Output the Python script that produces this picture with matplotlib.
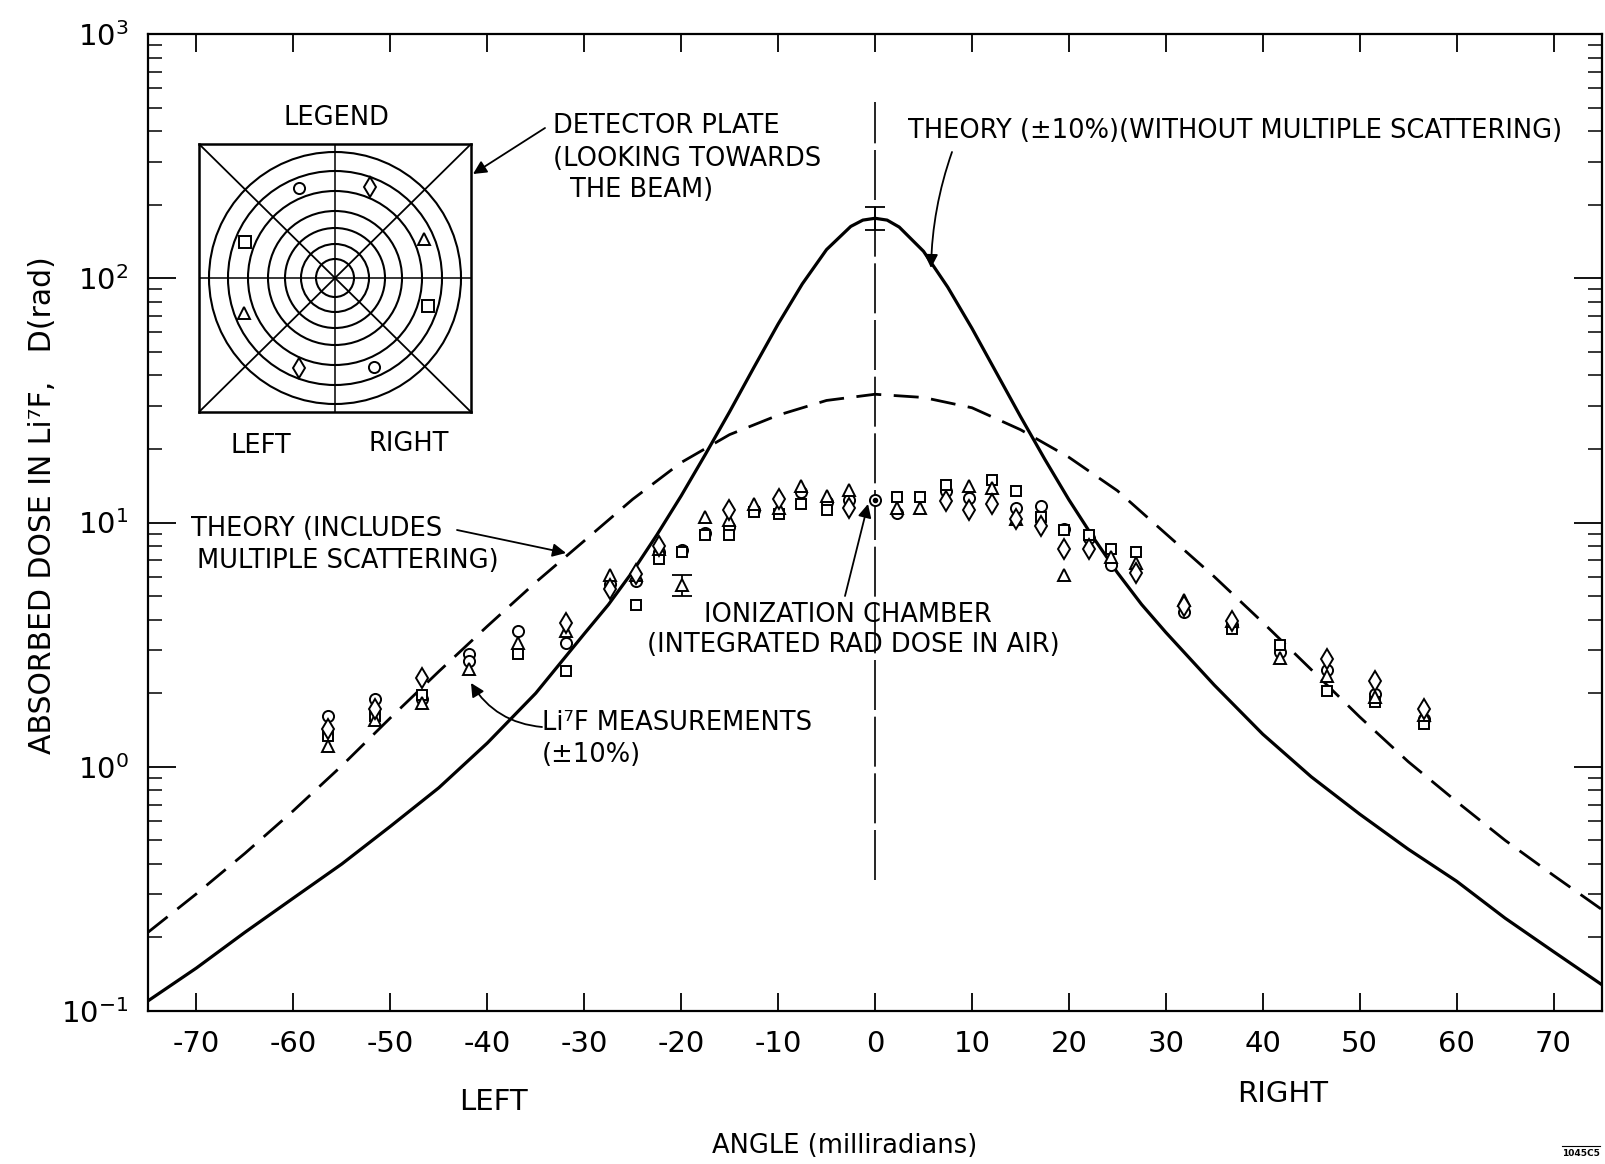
import matplotlib
matplotlib.use("Agg")
import matplotlib.pyplot as plt
import numpy as np
from matplotlib.patches import Circle
from matplotlib.lines import Line2D
from matplotlib.ticker import LogLocator, NullFormatter, FixedLocator

plt.rcParams["font.family"] = ["DejaVu Sans"]
plt.rcParams["axes.unicode_minus"] = False
plt.rcParams["mathtext.default"] = "regular"

W, H = 1605, 1164

# --- theory without multiple scattering (solid) ---
theory_angle = [-75, -70, -65, -60, -55, -50, -45, -40, -35, -30, -27.5, -25, -22.5,
                -20, -17.5, -15, -12.5, -10, -7.5, -5, -2.5, -1.25, 0, 1.25, 2.5, 5,
                7.5, 10, 12.5, 15, 17.5, 20, 22.5, 25, 27.5, 30, 35, 40, 45, 50, 55,
                60, 65, 70, 75]
theory_dose = [0.11, 0.15, 0.21, 0.29, 0.40, 0.57, 0.82, 1.25, 2.0, 3.5, 4.61, 6.3, 8.9,
               12.85, 19.0, 28.4, 43.1, 64.9, 94.8, 131, 163, 173, 176, 173, 162, 129,
               92, 62.4, 41.2, 27.2, 18.2, 12.4, 8.7, 6.24, 4.62, 3.55, 2.16, 1.36, 0.91,
               0.64, 0.46, 0.34, 0.24, 0.175, 0.128]

# --- theory including multiple scattering (dashed) ---
ms_angle = [-75, -70, -65, -60, -55, -50, -45, -40, -35, -30, -25, -20, -15, -10, -5, 0,
            5, 10, 15, 20, 25, 30, 35, 40, 45, 50, 55, 60, 65, 70, 75]
ms_dose = [0.21, 0.302, 0.442, 0.661, 1.01, 1.585, 2.455, 3.76, 5.69, 8.41, 12.45, 17.6,
           22.9, 27.5, 31.6, 33.5, 32.5, 29.5, 24, 18.5, 13.5, 9.0, 6.0, 3.9, 2.5, 1.6,
           1.05, 0.72, 0.50, 0.359, 0.26]

# --- Li7F measurements, one list per detector position ---
circle_angle = [-56.4, -51.6, -46.7, -41.9, -41.9, -36.8, -31.9, -27.3, -24.7, -22.3, -19.9,
                -17.5, -15.1, -12.5, -7.6, -5.0, -2.7, 2.3, 7.3, 9.7, 14.5, 17.1, 19.5,
                22.1, 24.3, 31.9, 36.8, 41.8, 46.6, 51.6, 56.6]
circle_dose = [1.61, 1.90, 1.90, 2.89, 2.70, 3.58, 3.22, 5.6, 5.78, 7.55, 7.7,
               9.1, 9.6, 11.2, 13.3, 12.1, 12.4, 10.9, 13.5, 12.6, 11.5, 11.7, 9.4,
               8.6, 6.7, 4.3, 3.8, 2.95, 2.5, 1.99, 1.57]

square_angle = [-56.4, -51.6, -46.7, -36.8, -31.9, -24.7, -22.3, -19.9, -17.5, -15.1, -12.5,
                -9.9, -7.6, -5.0, 2.3, 4.6, 7.3, 12.1, 14.5, 17.1, 19.5, 22.1, 24.3,
                26.9, 36.8, 41.8, 46.6, 51.6, 56.6]
square_dose = [1.33, 1.62, 1.96, 2.89, 2.47, 4.6, 7.1, 7.6, 8.9, 8.85, 11.0,
               10.8, 11.9, 11.2, 12.7, 12.7, 14.2, 14.9, 13.4, 10.5, 9.3, 8.85, 7.8,
               7.55, 3.66, 3.16, 2.05, 1.84, 1.49]

triangle_angle = [-56.4, -51.6, -46.7, -41.9, -36.8, -31.9, -27.3, -24.7, -22.3, -19.9, -17.5,
                  -15.1, -12.5, -9.9, -7.6, -5.0, -2.7, 2.3, 4.6, 9.7, 12.1, 14.5, 19.5,
                  24.3, 26.9, 31.9, 36.8, 41.8, 46.6, 51.6, 56.6]
triangle_dose = [1.22, 1.56, 1.82, 2.51, 3.22, 3.60, 6.1, 6.1, 7.8, 5.55, 10.5,
                 10.2, 11.9, 11.5, 14.1, 12.8, 13.6, 11.5, 11.5, 14.1, 13.8, 10.3, 6.1,
                 7.2, 6.8, 4.8, 3.95, 2.78, 2.35, 1.93, 1.63]

diamond_angle = [-56.4, -51.6, -46.7, -31.9, -27.3, -24.7, -22.3, -15.1, -9.9, -2.7, 7.3,
                 9.7, 12.1, 14.5, 17.1, 19.5, 22.1, 26.9, 31.9, 36.8, 46.6, 51.6, 56.6]
diamond_dose = [1.43, 1.72, 2.31, 3.89, 5.35, 6.17, 8.05, 11.3, 12.5, 11.5, 12.3,
                11.3, 11.9, 10.3, 9.7, 7.8, 7.8, 6.2, 4.55, 3.95, 2.75, 2.25, 1.73]

# ionization chamber reading and the two +-10% bars
ion_angle, ion_dose = 0.0, 12.4
bar_angle = [0.0, -19.9]
bar_dose = [176, 5.55]
bar_low = [158, 5.0]
bar_high = [195, 6.1]

# detector-plate legend: ring radii and marker spots (angle deg, marker)
plate_radii = [126, 107, 87, 67, 50, 34, 19]
plate_spot_r = 97
plate_spot_deg = [112, 69, 158, 24, 201, 343, 248, 294]
plate_spot_mk = ["o", "d", "s", "^", "^", "s", "d", "o"]

x_ticks = list(range(-70, 71, 10))
center_line = (0.345, 525)


def fpx(x, y):
    return x / W, 1 - y / H


fig = plt.figure(figsize=(W / 100, H / 100), dpi=100)
ax = fig.add_axes([148 / W, 1 - 1011 / H, 1454 / W, 977 / H])
ax.set_yscale("log")
ax.set_xlim(-75, 75)
ax.set_ylim(0.1, 1000)

ax.plot(theory_angle, theory_dose, color="k", lw=2.3, solid_joinstyle="round")
ax.plot(ms_angle, ms_dose, color="k", lw=2.0, dashes=(9, 4.5))
ax.plot([0, 0], center_line, color="k", lw=1.2, dashes=(30, 4))

mk = dict(ls="none", mfc="white", mec="k", mew=1.4, zorder=4)
ax.plot(circle_angle, circle_dose, marker="o", ms=8, **mk)
ax.plot(square_angle, square_dose, marker="s", ms=7.5, **mk)
ax.plot(triangle_angle, triangle_dose, marker="^", ms=8.5, **mk)
ax.plot(diamond_angle, diamond_dose, marker="d", ms=10, **mk)
ax.plot([ion_angle], [ion_dose], marker="o", ms=8, **mk)
ax.plot([ion_angle], [ion_dose], marker="o", ms=3, ls="none", color="k", zorder=5)

yerr = [np.array(bar_dose) - np.array(bar_low), np.array(bar_high) - np.array(bar_dose)]
ax.errorbar(bar_angle, bar_dose, yerr=yerr, fmt="none", ecolor="k", elinewidth=1.3,
            capsize=7, capthick=1.3, zorder=3)

for s in ax.spines.values():
    s.set_linewidth(1.6)
ax.xaxis.set_major_locator(FixedLocator(x_ticks))
ax.set_xticklabels([str(t) for t in x_ticks])
ax.yaxis.set_major_locator(LogLocator(base=10, numticks=10))
ax.yaxis.set_minor_locator(LogLocator(base=10, subs=np.arange(2, 10), numticks=10))
ax.yaxis.set_minor_formatter(NullFormatter())
ax.tick_params(axis="x", which="major", direction="in", length=13, width=1.3,
               top=True, labelsize=21, pad=14)
ax.tick_params(axis="y", which="major", direction="in", length=20, width=1.3,
               right=True, labelsize=21, pad=14)
ax.tick_params(axis="y", which="minor", direction="in", length=10, width=1.1, right=True)

# --- detector plate legend ---
lax = fig.add_axes([199 / W, 1 - 412 / H, 272 / W, 268 / H])
lax.set_xlim(-136, 136)
lax.set_ylim(-134, 134)
lax.set_xticks([])
lax.set_yticks([])
for s in lax.spines.values():
    s.set_linewidth(1.8)
for r in plate_radii:
    lax.add_patch(Circle((0, 0), r, fill=False, lw=1.5, color="k"))
lax.plot([-136, 136], [-134, 134], color="k", lw=1.3)
lax.plot([-136, 136], [134, -134], color="k", lw=1.3)
lax.plot([-136, 136], [0, 0], color="k", lw=1.1)
lax.plot([0, 0], [-134, 134], color="k", lw=1.1)
for deg, m in zip(plate_spot_deg, plate_spot_mk):
    a = np.deg2rad(deg)
    lax.plot(plate_spot_r * np.cos(a), plate_spot_r * np.sin(a), marker=m,
             ms=10 if m == "d" else 8, **mk)

fs = 18.5
fig.text(*fpx(336, 118), "LEGEND", fontsize=fs, ha="center", va="center")
fig.text(*fpx(261, 446), "LEFT", fontsize=fs, ha="center", va="center")
fig.text(*fpx(409, 444), "RIGHT", fontsize=fs, ha="center", va="center")

fig.text(*fpx(553, 126), "DETECTOR PLATE", fontsize=fs, ha="left", va="center")
fig.text(*fpx(553, 159), "(LOOKING TOWARDS", fontsize=fs, ha="left", va="center")
fig.text(*fpx(570, 190), "THE BEAM)", fontsize=fs, ha="left", va="center")

fig.text(*fpx(908, 131), "THEORY (±10%)(WITHOUT MULTIPLE SCATTERING)", fontsize=fs,
         ha="left", va="center")
fig.text(*fpx(191, 529), "THEORY (INCLUDES", fontsize=fs, ha="left", va="center")
fig.text(*fpx(197, 561), "MULTIPLE SCATTERING)", fontsize=fs, ha="left", va="center")
fig.text(*fpx(704, 615), "IONIZATION CHAMBER", fontsize=fs, ha="left", va="center")
fig.text(*fpx(647, 645), "(INTEGRATED RAD DOSE IN AIR)", fontsize=fs, ha="left", va="center")
fig.text(*fpx(542, 723), "Li⁷F MEASUREMENTS", fontsize=fs, ha="left", va="center")
fig.text(*fpx(542, 755), "(±10%)", fontsize=fs, ha="left", va="center")

arrow = dict(arrowstyle="-|>", color="k", lw=1.3, mutation_scale=20, shrinkA=0, shrinkB=0)
arrows = [((545, 128), (473, 174), 0.0),
          ((952, 152), (931, 268), 0.08),
          ((457, 530), (566, 553), 0.0),
          ((845, 596), (868, 504), 0.0),
          ((542, 727), (471, 683), -0.25)]
for start, end, rad in arrows:
    fig.add_artist(plt.Annotation("", xy=fpx(*end), xycoords="figure fraction",
                                  xytext=fpx(*start), textcoords="figure fraction",
                                  arrowprops=dict(arrow, connectionstyle=f"arc3,rad={rad}")))

fig.text(*fpx(43, 505), "ABSORBED DOSE IN Li⁷F,   D(rad)", fontsize=21.5, rotation=90,
         ha="center", va="center")
fig.text(*fpx(845, 1146), "ANGLE (milliradians)", fontsize=18.5, ha="center", va="center")
fig.text(*fpx(493, 1102), "LEFT", fontsize=21, ha="center", va="center")
fig.text(*fpx(1283, 1094), "RIGHT", fontsize=21, ha="center", va="center")
fig.text(*fpx(1581, 1153), "1045C5", fontsize=6.5, fontweight="bold", ha="center", va="center")
fig.add_artist(Line2D([1562 / W, 1600 / W], [1 - 1146 / H, 1 - 1146 / H], color="k", lw=0.8))

fig.savefig("out.png", dpi=100)
